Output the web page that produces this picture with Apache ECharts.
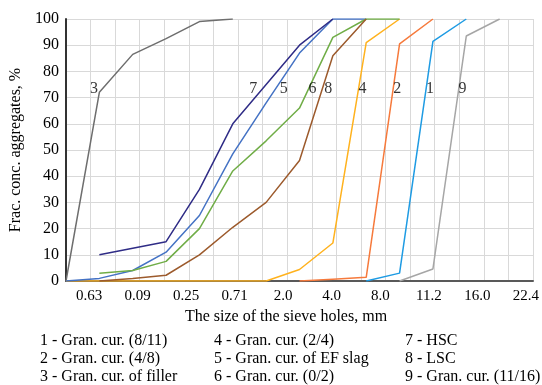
<!DOCTYPE html>
<html>
<head>
<meta charset="utf-8">
<script src="https://cdn.jsdelivr.net/npm/echarts@6/dist/echarts.min.js"></script>
<style>
html,body{margin:0;padding:0;background:#fff;}
#c{width:542px;height:385px;}
</style>
</head>
<body>
<div id="c"></div>
<script>
// Data point positions (index of sieve in the grading table, 0..14)
const sieveIndex = [0,1,2,3,4,5,6,7,8,9,10,11,12,13,14];
// Tick labels printed under the axis
const tickLabels = ['0.63','0.09','0.25','0.71','2.0','4.0','8.0','11.2','16.0','22.4'];
const yTicks = [0,10,20,30,40,50,60,70,80,90,100];

// Passing (%) for each curve, one value per sieve index (null = no point)
const s1 = [null,null,null,null,null,null,null,null,null,0,3,91.5,100,null,null];
const s2 = [null,null,null,null,null,null,null,0,0.7,1.4,90.5,100,null,null,null];
const s3 = [0,72,86.5,92.5,99,100,null,null,null,null,null,null,null,null,null];
const s4 = [0,0,0,0,0,0,0,4.4,14.5,91,100,null,null,null,null];
const s5 = [0,1,4,11,25,48.5,68,87,100,100,null,null,null,null,null];
const s6 = [null,3,4,7.5,20,42,53.5,66,93,100,100,null,null,null,null];
const s7 = [null,10,12.5,15,35,60,75,90,100,null,null,null,null,null,null];
const s8 = [null,0,1,2.2,10,20.5,30,46,86,100,null,null,null,null,null];
const s9 = [null,null,null,null,null,null,null,null,null,null,0,4.6,93.5,100,null];

const seriesNames = ['1','2','3','4','5','6','7','8','9'];
const seriesValues = [s1,s2,s3,s4,s5,s6,s7,s8,s9];
const seriesColors = ['#1E9BE3','#F67A3C','#6E6E6E','#FFB21E','#4472C4','#70AD47','#2F2C86','#9C5A2C','#A6A6A6'];

// Curve number annotations (x in sieve-index units, y in %)
const annoText = ['3','7','5','6','8','4','2','1','9'];
const annoX = [0.84,5.61,6.53,7.39,7.86,8.89,9.93,10.91,11.89];
const annoY = [73.5,73.5,73.5,73.5,73.5,73.5,73.5,73.5,73.5];

// Legend text, column-major
const legendNames = [
  '1 - Gran. cur. (8/11)','2 - Gran. cur. (4/8)','3 - Gran. cur. of filler',
  '4 - Gran. cur. (2/4)','5 - Gran. cur. of EF slag','6 - Gran. cur. (0/2)',
  '7 - HSC','8 - LSC','9 - Gran. cur. (11/16)'
];

const FONT = '"Liberation Serif", "Times New Roman", serif';
const chart = echarts.init(document.getElementById('c'), null, {renderer:'canvas'});

const lineSeries = seriesValues.map((vals, k) => ({
  name: seriesNames[k],
  type: 'line',
  xAxisIndex: 1,
  yAxisIndex: 0,
  data: sieveIndex.map((x, i) => [x, vals[i]]).filter(p => p[1] !== null),
  symbol: 'none',
  lineStyle: {color: seriesColors[k], width: 1.5},
  itemStyle: {color: seriesColors[k]},
  animation: false,
  z: 3
}));

const annoSeries = {
  type: 'scatter',
  xAxisIndex: 1,
  yAxisIndex: 0,
  symbolSize: 0,
  data: annoX.map((x, i) => ({value: [x, annoY[i]], label: {formatter: annoText[i]}})),
  label: {show: true, position: 'inside', color: '#000', fontFamily: FONT, fontSize: 16},
  animation: false,
  silent: true,
  z: 4
};

const legendCols = [40, 214, 405];
const legendRows = [342, 360, 378];
const graphics = legendNames.map((t, i) => ({
  type: 'text',
  left: legendCols[Math.floor(i / 3)],
  top: legendRows[i % 3] - 9,
  style: {text: t, fill: '#000', font: '16px ' + FONT}
}));

chart.setOption({
  backgroundColor: '#fff',
  animation: false,
  grid: [
    {left: 66, right: 9, top: 19, bottom: 104},
    {left: 89, right: 15, top: 19, bottom: 104}
  ],
  xAxis: [
    { // grid lines + axis line
      type: 'value', gridIndex: 0, min: 0, max: 19, interval: 1,
      axisLine: {show: true, lineStyle: {color: '#595959', width: 2}},
      axisTick: {show: false}, axisLabel: {show: false},
      splitLine: {show: true, lineStyle: {color: '#D9D9D9', width: 1}},
      name: 'The size of the sieve holes, mm', nameLocation: 'middle', nameGap: 28,
      nameTextStyle: {color: '#000', fontFamily: FONT, fontSize: 16, padding: [0, 27, 0, 0]}
    },
    { // data axis
      type: 'value', gridIndex: 0, min: 0, max: 14, show: false
    },
    { // tick labels
      type: 'category', gridIndex: 1, data: tickLabels, boundaryGap: false,
      axisLine: {show: false}, axisTick: {show: false},
      axisLabel: {interval: 0, color: '#000', fontFamily: FONT, fontSize: 15, margin: 8},
      splitLine: {show: false}
    }
  ],
  yAxis: [
    {
      type: 'value', gridIndex: 0, min: 0, max: 100, interval: 10,
      axisLine: {show: true, lineStyle: {color: '#333', width: 2}},
      axisTick: {show: false},
      axisLabel: {color: '#000', fontFamily: FONT, fontSize: 16, margin: 7},
      splitLine: {show: true, lineStyle: {color: '#D9D9D9', width: 1}},
      name: 'Frac. conc. aggregates, %', nameLocation: 'middle', nameGap: 37,
      nameTextStyle: {color: '#000', fontFamily: FONT, fontSize: 16}
    },
    {type: 'value', gridIndex: 1, min: 0, max: 100, show: false}
  ],
  series: lineSeries.concat([annoSeries]),
  graphic: graphics
});
</script>
</body>
</html>
